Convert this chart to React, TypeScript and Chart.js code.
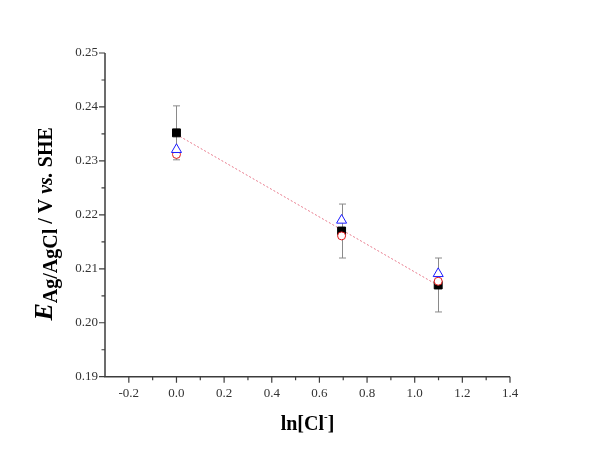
import React, { useEffect, useRef } from "react";
import { Chart, registerables } from "chart.js";

Chart.register(...registerables);

// ---- data ----
const lnCl = [0, 0.6931, 1.0986];
const squareE = [0.2352, 0.217, 0.207];
const squareErr = [0.005, 0.005, 0.005];
const triangleE = [0.2321, 0.219, 0.2091];
const circleE = [0.2312, 0.2161, 0.2077];
const fitX = [0, 1.0986];
const fitE = [0.2349, 0.2069];

const xRange = [-0.3, 1.4];
const yRange = [0.19, 0.25];
const xTicks = [-0.2, 0, 0.2, 0.4, 0.6, 0.8, 1.0, 1.2, 1.4];
const xMinorTicks = [-0.1, 0.1, 0.3, 0.5, 0.7, 0.9, 1.1, 1.3];
const yTicks = [0.19, 0.2, 0.21, 0.22, 0.23, 0.24, 0.25];
const yMinorTicks = [0.195, 0.205, 0.215, 0.225, 0.235, 0.245];

const SERIF = '"Liberation Serif", "Times New Roman", serif';
const AXIS_COLOR = "#3c3c3c";

const pts = (xs: number[], ys: number[]) => xs.map((x, i) => ({ x, y: ys[i] }));

const errorBarPlugin = {
  id: "errorBars",
  beforeDatasetsDraw(chart: any) {
    const { ctx, scales } = chart;
    const xs = scales.x, ys = scales.y;
    ctx.save();
    ctx.strokeStyle = "#8a8a8a";
    ctx.lineWidth = 1;
    lnCl.forEach((v, i) => {
      const px = Math.round(xs.getPixelForValue(v)) + 0.5;
      const top = ys.getPixelForValue(squareE[i] + squareErr[i]);
      const bot = ys.getPixelForValue(squareE[i] - squareErr[i]);
      ctx.beginPath();
      ctx.moveTo(px, top);
      ctx.lineTo(px, bot);
      ctx.moveTo(px - 3.5, top);
      ctx.lineTo(px + 3.5, top);
      ctx.moveTo(px - 3.5, bot);
      ctx.lineTo(px + 3.5, bot);
      ctx.stroke();
    });
    ctx.restore();
  },
};

const axesPlugin = {
  id: "axesDecor",
  afterDraw(chart: any) {
    const { ctx, scales, chartArea } = chart;
    const xs = scales.x, ys = scales.y;
    const left = chartArea.left, bottom = chartArea.bottom;
    ctx.save();
    ctx.strokeStyle = AXIS_COLOR;
    ctx.lineWidth = 1.5;
    ctx.beginPath();
    ctx.moveTo(left, chartArea.top);
    ctx.lineTo(left, bottom);
    ctx.lineTo(chartArea.right, bottom);
    ctx.stroke();
    ctx.lineWidth = 1.2;
    ctx.beginPath();
    xTicks.forEach((v) => {
      const p = xs.getPixelForValue(v);
      ctx.moveTo(p, bottom);
      ctx.lineTo(p, bottom + 6);
    });
    xMinorTicks.forEach((v) => {
      const p = xs.getPixelForValue(v);
      ctx.moveTo(p, bottom);
      ctx.lineTo(p, bottom + 3.5);
    });
    yTicks.forEach((v) => {
      const p = ys.getPixelForValue(v);
      ctx.moveTo(left, p);
      ctx.lineTo(left - 6, p);
    });
    yMinorTicks.forEach((v) => {
      const p = ys.getPixelForValue(v);
      ctx.moveTo(left, p);
      ctx.lineTo(left - 3.5, p);
    });
    ctx.stroke();

    // y-axis title (rich text)
    ctx.fillStyle = "#000";
    ctx.textBaseline = "alphabetic";
    ctx.textAlign = "left";
    const segs = [
      { t: "E", font: `italic bold 26px ${SERIF}`, dy: 0 },
      { t: "Ag/AgCl", font: `bold 20px ${SERIF}`, dy: 5 },
      { t: " / V ", font: `bold 20px ${SERIF}`, dy: 0 },
      { t: "vs.", font: `italic bold 20px ${SERIF}`, dy: 0 },
      { t: " SHE", font: `bold 20px ${SERIF}`, dy: 0 },
    ];
    let total = 0;
    segs.forEach((s) => {
      ctx.font = s.font;
      total += ctx.measureText(s.t).width;
    });
    ctx.save();
    ctx.translate(52, (chartArea.top + bottom) / 2 + 9);
    ctx.rotate(-Math.PI / 2);
    let x = -total / 2;
    segs.forEach((s) => {
      ctx.font = s.font;
      ctx.fillText(s.t, x, s.dy);
      x += ctx.measureText(s.t).width;
    });
    ctx.restore();

    // x-axis title
    const xsegs = [
      { t: "ln[Cl", font: `bold 20px ${SERIF}`, dy: 0 },
      { t: "-", font: `bold 11px ${SERIF}`, dy: -10 },
      { t: "]", font: `bold 20px ${SERIF}`, dy: 0 },
    ];
    let xt = 0;
    xsegs.forEach((s) => {
      ctx.font = s.font;
      xt += ctx.measureText(s.t).width;
    });
    let xx = (chartArea.left + chartArea.right) / 2 - xt / 2;
    const base = 430;
    xsegs.forEach((s) => {
      ctx.font = s.font;
      ctx.fillText(s.t, xx, base + s.dy);
      xx += ctx.measureText(s.t).width;
    });
    ctx.restore();
  },
};

export default function App() {
  const ref = useRef<HTMLCanvasElement | null>(null);
  useEffect(() => {
    if (!ref.current) return;
    const chart = new Chart(ref.current, {
      type: "scatter",
      data: {
        datasets: [
          {
            data: pts(lnCl, triangleE),
            pointStyle: "triangle",
            pointRadius: 5.8,
            pointBorderWidth: 1,
            borderColor: "#1a1aff",
            backgroundColor: "#ffffff",
          },
          {
            data: pts(lnCl, circleE),
            pointStyle: "circle",
            pointRadius: 4,
            pointBorderWidth: 1,
            borderColor: "#e01818",
            backgroundColor: "#ffffff",
          },
          {
            data: pts(lnCl, squareE),
            pointStyle: "rect",
            pointRadius: 5.6,
            pointBorderWidth: 1,
            borderColor: "#000000",
            backgroundColor: "#000000",
          },
          {
            data: pts(fitX, fitE),
            showLine: true,
            pointRadius: 0,
            borderColor: "#e87a8c",
            borderWidth: 1,
            borderDash: [2, 2],
          } as any,
        ],
      },
      options: {
        animation: false,
        responsive: false,
        devicePixelRatio: 1,
        layout: { padding: { left: 0, top: 53, right: 82, bottom: 0 } },
        plugins: { legend: { display: false }, tooltip: { enabled: false } },
        scales: {
          x: {
            type: "linear",
            min: xRange[0],
            max: xRange[1],
            grid: { display: false, drawTicks: false },
            border: { display: false },
            afterBuildTicks: (s: any) => {
              s.ticks = xTicks.map((value) => ({ value }));
            },
            afterFit: (s: any) => {
              s.height = 452 - 376.7;
            },
            ticks: {
              padding: 9,
              color: "#333",
              font: { family: SERIF, size: 13 },
              maxRotation: 0,
              autoSkip: false,
              callback: (v: any) => Number(v).toFixed(1),
            },
          },
          y: {
            type: "linear",
            min: yRange[0],
            max: yRange[1],
            grid: { display: false, drawTicks: false },
            border: { display: false },
            afterBuildTicks: (s: any) => {
              s.ticks = yTicks.map((value) => ({ value }));
            },
            afterFit: (s: any) => {
              s.width = 105;
            },
            ticks: {
              padding: 7,
              color: "#333",
              font: { family: SERIF, size: 13 },
              autoSkip: false,
              callback: (v: any) => Number(v).toFixed(2),
            },
          },
        },
      },
      plugins: [errorBarPlugin, axesPlugin],
    } as any);
    return () => chart.destroy();
  }, []);
  return (
    <div style={{ position: "fixed", left: 0, top: 0, width: 592, height: 452, background: "#fff" }}>
      <canvas ref={ref} width={592} height={452} style={{ display: "block" }} />
    </div>
  );
}
